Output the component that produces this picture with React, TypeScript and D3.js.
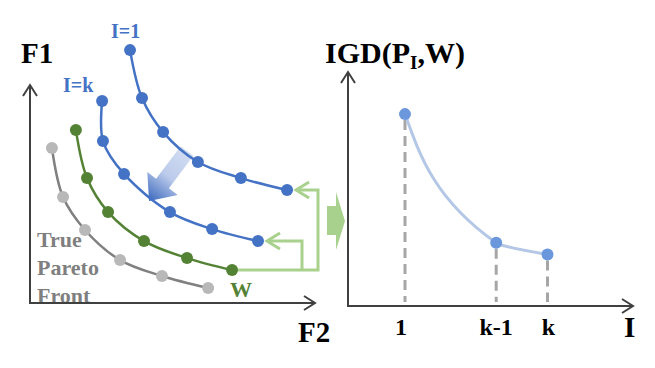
import React from "react";
import * as d3 from "d3";

const W = 655;
const H = 368;

// objective space, [F2, F1] in arbitrary units (axes run 0..10)
const frontI1 = [[3.51, 11.6], [3.93, 9.4], [4.67, 7.84], [5.89, 6.47], [7.4, 5.73], [9.02, 5.18]];
const frontIk = [[2.53, 9.27], [2.56, 7.43], [3.3, 5.92], [4.91, 4.17], [6.39, 3.39], [8.0, 2.84]];
const frontW = [[1.61, 7.94], [2.0, 5.73], [2.74, 4.17], [4.0, 2.84], [5.51, 2.06], [7.09, 1.51]];
const truePF = [[0.77, 7.11], [1.16, 4.86], [1.93, 3.35], [3.16, 1.97], [4.63, 1.24], [6.25, 0.69]];

// IGD against iteration
const iterTicks = ["1", "k-1", "k"];
const iterPos = [1, 2.6, 3.5];
const igdValues = [0.82, 0.27, 0.22];

const FONT = "Liberation Serif";
const BLUE = "#4472c4";
const GREEN = "#548235";
const LIGHT_GREEN = "#a9d18e";
const AXIS = "#404040";

const f2 = d3.scaleLinear().domain([0, 10]).range([30, 315]);
const f1 = d3.scaleLinear().domain([0, 10]).range([303, 85]);
const xI = d3.scaleLinear().domain([0, 5]).range([348, 633]);
const yIGD = d3.scaleLinear().domain([0, 1]).range([306, 72]);

const frontLine = d3
  .line<number[]>()
  .x((d) => f2(d[0]))
  .y((d) => f1(d[1]))
  .curve(d3.curveCatmullRom);

const igdLine = d3
  .line<number>()
  .x((_, i) => xI(iterPos[i]))
  .y((d) => yIGD(d))
  .curve(d3.curveMonotoneY);

function Axes({ x0, y0, x1, y1 }: { x0: number; y0: number; x1: number; y1: number }) {
  const a = 11;
  const h = 7;
  return (
    <g stroke={AXIS} strokeWidth={2} fill="none">
      <path d={`M${x0},${y1}L${x0},${y0}L${x1},${y0}`} />
      <path d={`M${x0 - h},${y1 + a}L${x0},${y1}L${x0 + h},${y1 + a}`} />
      <path d={`M${x1 - a},${y0 - h}L${x1},${y0}L${x1 - a},${y0 + h}`} />
    </g>
  );
}

function Front({ pts, line, dot }: { pts: number[][]; line: string; dot: string }) {
  return (
    <g>
      <path d={frontLine(pts) || ""} fill="none" stroke={line} strokeWidth={2.5} />
      {pts.map((d, i) => (
        <circle key={i} cx={f2(d[0])} cy={f1(d[1])} r={6} fill={dot} />
      ))}
    </g>
  );
}

export default function App() {
  // feedback arrows from W to the two blue fronts
  const wEnd = frontW[frontW.length - 1];
  const i1End = frontI1[frontI1.length - 1];
  const ikEnd = frontIk[frontIk.length - 1];
  const sx = f2(wEnd[0]);
  const sy = f1(wEnd[1]);
  const outerX = 318;
  const innerX = 302;
  const t1x = f2(i1End[0]) + 9;
  const t1y = f1(i1End[1]);
  const tkx = f2(ikEnd[0]) + 9;
  const tky = f1(ikEnd[1]);

  // big gradient arrow
  const tail = [187, 151];
  const baseC = [162.5, 183.5];
  const tip = [149, 201];
  const px = 0.8, py = 0.6;
  const sw = 8, hw = 19;
  const arrowPts = [
    [tail[0] - px * sw, tail[1] - py * sw],
    [tail[0] + px * sw, tail[1] + py * sw],
    [baseC[0] + px * sw, baseC[1] + py * sw],
    [baseC[0] + px * hw, baseC[1] + py * hw],
    tip,
    [baseC[0] - px * hw, baseC[1] - py * hw],
    [baseC[0] - px * sw, baseC[1] - py * sw],
  ];

  const txt = { fontFamily: FONT, fontWeight: 700 };

  return (
    <svg
      width={W}
      height={H}
      style={{ position: "absolute", left: 0, top: 0, background: "#fff", ...txt }}
    >
      <defs>
        <linearGradient id="bigArrow" gradientUnits="userSpaceOnUse" x1={tail[0]} y1={tail[1]} x2={tip[0]} y2={tip[1]}>
          <stop offset="0" stopColor="#d2ddf2" />
          <stop offset="0.5" stopColor="#bccbeb" />
          <stop offset="1" stopColor="#3a68bd" />
        </linearGradient>
      </defs>

      {/* left panel text */}
      <text x={21} y={63} fontSize={29} fill="#000" style={txt}>F1</text>
      <text x={298} y={342} fontSize={29} fill="#000" style={txt}>F2</text>
      <text x={111} y={38} fontSize={20} fill={BLUE} style={txt}>I=1</text>
      <text x={63} y={92} fontSize={20} fill={BLUE} style={txt}>I=k</text>
      <text x={230} y={297} fontSize={22} fill={GREEN} style={txt}>W</text>
      <g fontSize={22} fill="#7f7f7f" style={txt}>
        <text x={37} y={247}>True</text>
        <text x={37} y={275}>Pareto</text>
        <text x={37} y={303}>Front</text>
      </g>

      <polygon points={arrowPts.map((p) => p.join(",")).join(" ")} fill="url(#bigArrow)" />

      <Front pts={truePF} line="#808080" dot="#b8b8b8" />
      <Front pts={frontW} line={GREEN} dot={GREEN} />
      <Front pts={frontIk} line={BLUE} dot={BLUE} />
      <Front pts={frontI1} line={BLUE} dot={BLUE} />

      <g stroke={LIGHT_GREEN} strokeWidth={3} fill="none">
        <path d={`M${sx + 6},${sy}L${outerX},${sy}L${outerX},${t1y}L${t1x},${t1y}`} />
        <path d={`M${t1x + 13},${t1y - 8}L${t1x},${t1y}L${t1x + 13},${t1y + 8}`} />
        <path d={`M${innerX},${sy}L${innerX},${tky}L${tkx},${tky}`} />
        <path d={`M${tkx + 13},${tky - 8}L${tkx},${tky}L${tkx + 13},${tky + 8}`} />
      </g>

      <Axes x0={30} y0={303} x1={315} y1={85} />

      {/* transition arrow */}
      <polygon points="327,206 336,206 336,192 345,221 336,250 336,235 327,235" fill={LIGHT_GREEN} />

      {/* right panel */}
      <text x={325} y={63} fontSize={30} fill="#000" style={txt}>
        IGD(P<tspan fontSize={19} dy={6}>I</tspan>
        <tspan dy={-6}>,W)</tspan>
      </text>
      <text x={624} y={337} fontSize={29} fill="#000" style={txt}>I</text>

      <g stroke="#a6a6a6" strokeWidth={3} strokeDasharray="10,6">
        {igdValues.map((v, i) => (
          <line key={i} x1={xI(iterPos[i])} x2={xI(iterPos[i])} y1={yIGD(v) + 6} y2={302} />
        ))}
      </g>
      <path d={igdLine(igdValues) || ""} fill="none" stroke="#b4c7e7" strokeWidth={3} />
      {igdValues.map((v, i) => (
        <circle key={i} cx={xI(iterPos[i])} cy={yIGD(v)} r={6} fill="#6b97dc" />
      ))}
      <g fontSize={24} fill="#000" textAnchor="middle" style={txt}>
        {iterTicks.map((t, i) => (
          <text key={t} x={xI(iterPos[i]) + (i === 0 ? -4 : i === 2 ? 1 : 0)} y={335}>
            {t}
          </text>
        ))}
      </g>

      <Axes x0={348} y0={306} x1={633} y1={72} />
    </svg>
  );
}
